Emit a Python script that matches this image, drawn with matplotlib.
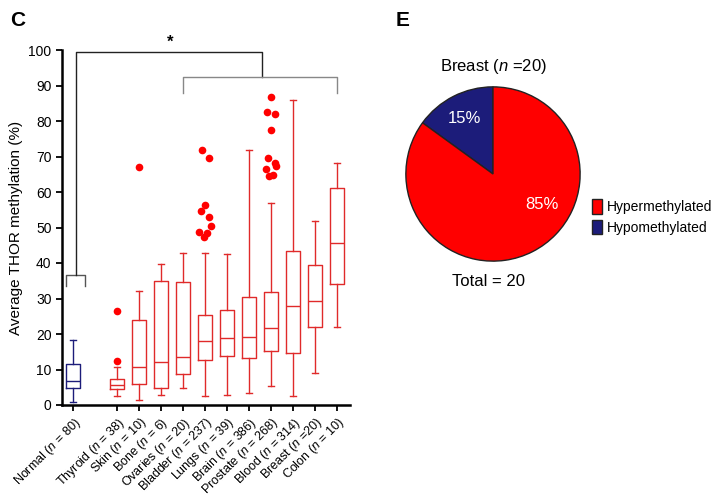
import numpy as np
import matplotlib.pyplot as plt
from matplotlib.patches import Patch

plt.rcParams['font.family'] = ['Liberation Sans', 'DejaVu Sans']
plt.rcParams['mathtext.fontset'] = 'custom'
plt.rcParams['mathtext.rm'] = 'Liberation Sans'
plt.rcParams['mathtext.it'] = 'Liberation Sans:italic'

# Panel C data: box statistics (%)
tissues = ['Normal', 'Thyroid', 'Skin', 'Bone', 'Ovaries', 'Bladder', 'Lungs',
           'Brain', 'Prostate', 'Blood', 'Breast', 'Colon']
n_samples = ['80', '38', '10', '6', '20', '237', '39', '386', '268', '314', '=20', '10']
positions = [0, 2, 3, 4, 5, 6, 7, 8, 9, 10, 11, 12]
whis_lo = [0.85, 2.6, 1.3, 2.7, 4.8, 2.6, 2.8, 3.4, 5.4, 2.5, 9.1, 21.9]
q1 = [4.7, 4.5, 5.8, 4.7, 8.7, 12.6, 13.7, 13.3, 15.2, 14.6, 21.9, 34.1]
med = [6.9, 5.7, 10.7, 12.2, 13.4, 18.0, 18.9, 19.2, 21.6, 27.8, 29.3, 45.5]
q3 = [11.5, 7.4, 23.9, 34.9, 34.6, 25.4, 26.7, 30.5, 31.8, 43.5, 39.5, 61.2]
whis_hi = [18.3, 10.8, 32.0, 39.6, 42.9, 42.7, 42.4, 71.7, 56.9, 85.9, 51.8, 68.2]

# outliers
out_thyroid = [26.6, 12.4]
out_skin = [67.1]
out_bladder = [71.8, 69.5, 56.3, 54.6, 53.0, 50.4, 48.6, 48.4, 47.4]
out_prostate = [86.7, 82.6, 82.0, 77.5, 69.7, 68.2, 67.3, 66.5, 64.6, 64.9]
jit_bladder = [-0.15, 0.2, 0.0, -0.17, 0.2, 0.27, -0.25, 0.09, -0.06]
jit_prostate = [0.0, -0.17, 0.18, 0.0, -0.15, 0.2, 0.25, -0.2, -0.09, 0.12]

# Panel E data
pie_values = [15, 85]   # hypo, hyper

navy = '#1c1c7a'
red = '#e02a2a'

fig = plt.figure(figsize=(7.21, 5.0), dpi=100)
ax = fig.add_axes([62/721, 95/500, 288/721, 355/500])

stats = []
for i in range(len(tissues)):
    stats.append(dict(whislo=whis_lo[i], q1=q1[i], med=med[i], q3=q3[i],
                      whishi=whis_hi[i], fliers=[]))

for i, s in enumerate(stats):
    c = navy if i == 0 else red
    ax.bxp([s], positions=[positions[i]], widths=0.65, capwidths=0.3,
           showfliers=False,
           boxprops=dict(color=c, lw=1.0),
           medianprops=dict(color=c, lw=1.0),
           whiskerprops=dict(color=c, lw=1.0),
           capprops=dict(color=c, lw=1.0))

ms = 5.5
ax.plot([positions[1]] * len(out_thyroid), out_thyroid, 'o', color='red', ms=ms, mec='none')
ax.plot([positions[2]] * len(out_skin), out_skin, 'o', color='red', ms=ms, mec='none')
ax.plot(positions[5] + np.array(jit_bladder), out_bladder, 'o', color='red', ms=ms, mec='none')
ax.plot(positions[8] + np.array(jit_prostate), out_prostate, 'o', color='red', ms=ms, mec='none')

# significance brackets
ax.plot([-0.3, -0.3, 0.55, 0.55], [33.5, 36.6, 36.6, 33.5], color='#555555', lw=1.0, clip_on=False)
ax.plot([0.12, 0.12, 8.6, 8.6], [36.6, 99.3, 99.3, 92.3], color='#222222', lw=1.0, clip_on=False)
ax.plot([5, 5, 12, 12], [87.8, 92.3, 92.3, 87.8], color='#888888', lw=1.0, clip_on=False)
ax.text(4.4, 100.2, '*', ha='center', va='bottom', fontsize=12, fontweight='bold')

ax.set_xlim(-0.5, 12.6)
ax.set_ylim(0, 100)
ax.set_yticks(np.arange(0, 101, 10))
ax.set_xticks(positions)
ax.set_xticklabels([f'{t} ($\\it{{n}}$ {"" if k.startswith("=") else "= "}{k})' for t, k in zip(tissues, n_samples)],
                   rotation=45, ha='right', rotation_mode='anchor', fontsize=9)
ax.tick_params(axis='y', labelsize=10, width=1.3, length=4)
ax.tick_params(axis='x', width=1.3, length=4, pad=3)
ax.set_ylabel('Average THOR methylation (%)', fontsize=11)
for sp in ['top', 'right']:
    ax.spines[sp].set_visible(False)
for sp in ['left', 'bottom']:
    ax.spines[sp].set_linewidth(1.8)

# Panel E pie
pax = fig.add_axes([(493-88)/721, (500-174-88)/500, 176/721, 176/500])
wedges, texts, autotexts = pax.pie(pie_values, colors=[navy, 'red'], startangle=90,
                                   autopct='%d%%', pctdistance=0.72,
                                   wedgeprops=dict(edgecolor='#222222', linewidth=1.0),
                                   textprops=dict(color='white', fontsize=12))
ang = np.deg2rad(-32)
autotexts[1].set_position((0.66*np.cos(ang), 0.66*np.sin(ang)))
pax.set_xlim(-1.01, 1.01)
pax.set_ylim(-1.01, 1.01)

fig.text(493/721, 1-67/500, 'Breast ($\\it{n}$ =20)', ha='center', va='center', fontsize=12)
fig.text(488/721, 1-282/500, 'Total = 20', ha='center', va='center', fontsize=12)

handles = [Patch(facecolor='red', edgecolor='#222222', label='Hypermethylated'),
           Patch(facecolor=navy, edgecolor='#222222', label='Hypomethylated')]
fig.legend(handles=handles, loc='center left', bbox_to_anchor=(582/721, 1-217/500),
           frameon=False, fontsize=10, handlelength=0.75, handleheight=1.2,
           handletextpad=0.35, labelspacing=0.4, borderpad=0.2)

fig.text(10/721, 1-20/500, 'C', fontsize=15, fontweight='bold', va='center')
fig.text(396/721, 1-20/500, 'E', fontsize=15, fontweight='bold', va='center')

fig.savefig('out.png', dpi=100)
